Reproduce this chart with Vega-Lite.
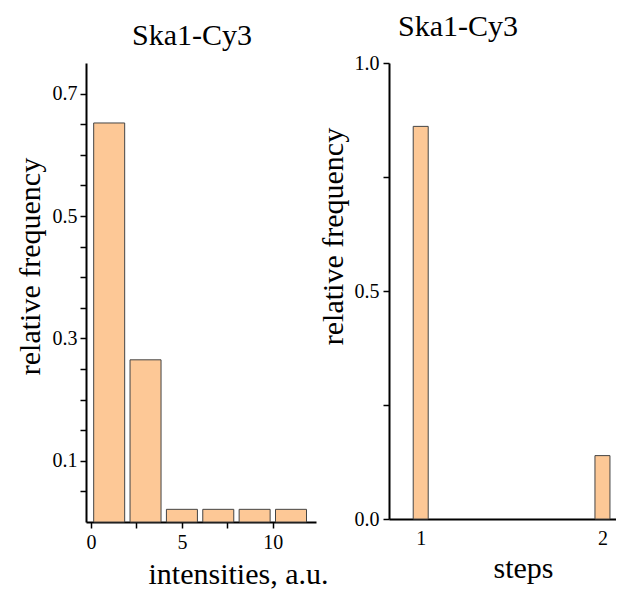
{
  "$schema": "https://vega.github.io/schema/vega-lite/v6.json",
  "background": "white",
  "padding": {"left": 15, "top": 12, "right": 0, "bottom": 0},
  "config": {
    "font": "Liberation Serif",
    "view": {"stroke": null},
    "axis": {
      "grid": false,
      "domainColor": "black",
      "domainWidth": 2,
      "tickColor": "black",
      "tickWidth": 1.5,
      "tickSize": 6,
      "labelColor": "black",
      "labelFont": "Liberation Serif",
      "labelFontSize": 20,
      "titleFont": "Liberation Serif",
      "titleFontSize": 30,
      "titleFontWeight": "normal",
      "titleColor": "black"
    },
    "title": {"font": "Liberation Serif", "fontSize": 30, "fontWeight": "normal", "color": "black"}
  },
  "bounds": "flush",
  "spacing": 73,
  "hconcat": [
    {
      "width": 230,
      "height": 459,
      "title": {"text": "Ska1-Cy3", "anchor": "start", "frame": "group", "dx": 46, "offset": -12, "baseline": "alphabetic"},
      "data": {"values": [
        {"intensity": 1, "freq": 0.652},
        {"intensity": 3, "freq": 0.265},
        {"intensity": 5, "freq": 0.0207},
        {"intensity": 7, "freq": 0.0207},
        {"intensity": 9, "freq": 0.0207},
        {"intensity": 11, "freq": 0.0207}
      ]},
      "mark": {"type": "bar", "orient": "vertical", "size": 31, "fill": "#FDC896", "stroke": "#444444", "strokeWidth": 1},
      "encoding": {
        "x": {
          "field": "intensity", "type": "quantitative",
          "scale": {"domain": [0, 12.1], "nice": false, "zero": false},
          "axis": {
            "title": "intensities, a.u.",
            "values": [0, 2.5, 5, 7.5, 10],
            "labelExpr": "datum.value % 5 === 0 ? datum.label : ''",
            "labelPadding": 4,
            "titleX": 152,
            "titleY": 61,
            "titleBaseline": "alphabetic"
          }
        },
        "y": {
          "field": "freq", "type": "quantitative",
          "scale": {"domain": [0, 0.75], "nice": false},
          "axis": {
            "title": "relative frequency",
            "values": [0.05, 0.1, 0.15, 0.2, 0.25, 0.3, 0.35, 0.4, 0.45, 0.5, 0.55, 0.6, 0.65, 0.7],
            "labelExpr": "(round(datum.value * 100) % 20 === 10) ? format(datum.value, '.1f') : ''",
            "labelPadding": 3,
            "titlePadding": 7,
            "titleY": 203
          }
        }
      }
    },
    {
      "width": 227,
      "height": 456,
      "title": {"text": "Ska1-Cy3", "anchor": "start", "frame": "group", "dx": 9, "offset": -13, "baseline": "alphabetic"},
      "data": {"values": [
        {"steps": 1, "freq": 0.861},
        {"steps": 2, "freq": 0.139}
      ]},
      "mark": {"type": "bar", "orient": "vertical", "size": 15, "fill": "#FDC896", "stroke": "#444444", "strokeWidth": 1},
      "encoding": {
        "x": {
          "field": "steps", "type": "quantitative",
          "scale": {"domain": [0.853, 2.047], "nice": false, "zero": false},
          "axis": {
            "title": "steps",
            "values": [1, 2],
            "format": "d",
            "ticks": false,
            "tickSize": 0,
            "labelPadding": 9,
            "titleX": 134,
            "titleY": 58,
            "titleBaseline": "alphabetic"
          }
        },
        "y": {
          "field": "freq", "type": "quantitative",
          "scale": {"domain": [0, 1], "nice": false},
          "axis": {
            "title": "relative frequency",
            "values": [0, 0.25, 0.5, 0.75, 1],
            "labelExpr": "(round(datum.value * 100) % 50 === 0) ? format(datum.value, '.1f') : ''",
            "labelPadding": 4,
            "titlePadding": 6,
            "titleY": 173
          }
        }
      }
    }
  ]
}
